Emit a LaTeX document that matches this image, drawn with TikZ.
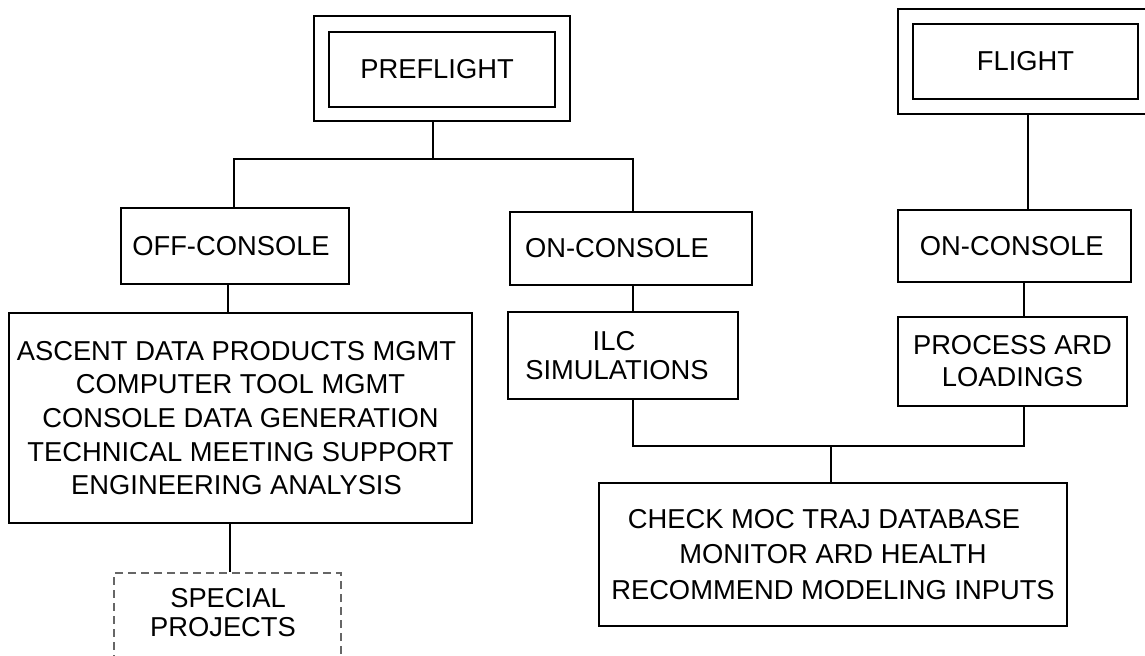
\documentclass[tikz,border=0pt]{standalone}
\usepackage{fontspec}
\setmainfont{Liberation Sans}
\usetikzlibrary{fit,calc}
\begin{document}
\begin{tikzpicture}[x=0.75pt,y=-0.75pt,
  every node/.style={font=\fontsize{20.5}{25}\selectfont, inner sep=0pt, align=center},
  box/.style 2 args={draw, line width=1.5pt, minimum width=#1*0.75pt, minimum height=#2*0.75pt},
  conn/.style={line width=1.5pt},
  dbox/.style={draw=black!60, line width=0.9pt, dash pattern=on 6pt off 3.75pt}]
\useasboundingbox (0,0) rectangle (1145,656);
\clip (0,0) rectangle (1145,656);

% top level
\node[box={256}{105}] (preOut) at (442,68.5) {};
\node[box={226}{75}] (preIn) at (442,69.5) {PREFLIGHT\hspace*{7.5pt}};
\node[box={254}{105}] (flOut) at (1025,61.5) {};
\node[box={225}{75}] (flIn) at (1025.5,61.5) {FLIGHT};

% second level
\node[box={228}{76}] (off) at (235,246) {OFF-CONSOLE\hspace*{6pt}};
\node[box={242}{73}] (onL) at (631,248.5) {ON-CONSOLE\hspace*{21pt}};
\node[box={233}{72}] (onR) at (1014.5,246) {ON-CONSOLE\hspace*{4pt}};

% third level
\node[box={463}{210}, font=\fontsize{20.5}{25.2}\selectfont] (big) at (240.5,418)
  {ASCENT DATA PRODUCTS MGMT\hspace*{6pt}\\COMPUTER TOOL MGMT\hspace*{6pt}\\CONSOLE DATA GENERATION\hspace*{12pt}\\TECHNICAL MEETING SUPPORT\hspace*{6pt}\\ENGINEERING ANALYSIS\hspace*{6pt}};
\node[box={230}{87}, font=\fontsize{20.5}{21.75}\selectfont] (ilc) at (623,355.5)
  {ILC\hspace*{13.5pt}\\SIMULATIONS\hspace*{9pt}};
\node[box={229}{89}, font=\fontsize{20.5}{24}\selectfont] (proc) at (1012.5,361.5)
  {PROCESS ARD\\LOADINGS};

% bottom
\node[box={468}{143}, font=\fontsize{20.5}{26.5}\selectfont] (bottom) at (833,554.5)
  {CHECK MOC TRAJ DATABASE\hspace*{13.5pt}\\MONITOR ARD HEALTH\hspace*{24pt}\\RECOMMEND MODELING INPUTS};

% special projects (dashed, cut by the lower edge)
\coordinate (spA) at (114,573);
\coordinate (spB) at (341,700);
\node[dbox, fit=(spA)(spB), inner sep=0pt] (special) {};
\node[font=\fontsize{20.5}{21.75}\selectfont] (specT) at (228,613) {SPECIAL\\PROJECTS\hspace*{7.5pt}};

% connectors
\coordinate (preC) at ($(preOut.south)+(-9,0)$);
\coordinate (hub) at (433,159);
\draw[conn] (preC) -- (hub);
\coordinate (offN) at ($(off.north)+(-1,0)$);
\coordinate (onLN) at ($(onL.north)+(1.5,0)$);
\draw[conn] (offN) |- (hub) -| (onLN);

\coordinate (flC) at ($(flOut.south)+(3,0)$);
\draw[conn] (flC) -- (flC |- onR.north);

\coordinate (offC) at ($(off.south)+(-7,0)$);
\draw[conn] (offC) -- (offC |- big.north);

\coordinate (onLC) at ($(onL.south)+(2,0)$);
\draw[conn] (onLC) -- (onLC |- ilc.north);

\coordinate (onRC) at ($(onR.south)+(9.5,0)$);
\draw[conn] (onRC) -- (onRC |- proc.north);

\coordinate (ilcC) at ($(ilc.south)+(10,0)$);
\coordinate (procC) at ($(proc.south)+(11.5,0)$);
\coordinate (jn) at (831,446);
\draw[conn] (ilcC) |- (jn) -| (procC);
\coordinate (botC) at ($(bottom.north)+(-2,0)$);
\draw[conn] (jn) -- (botC);

\coordinate (bigC) at ($(big.south)+(-10.5,0)$);
\draw[conn] (bigC) -- (bigC |- special.north);
\end{tikzpicture}
\end{document}
